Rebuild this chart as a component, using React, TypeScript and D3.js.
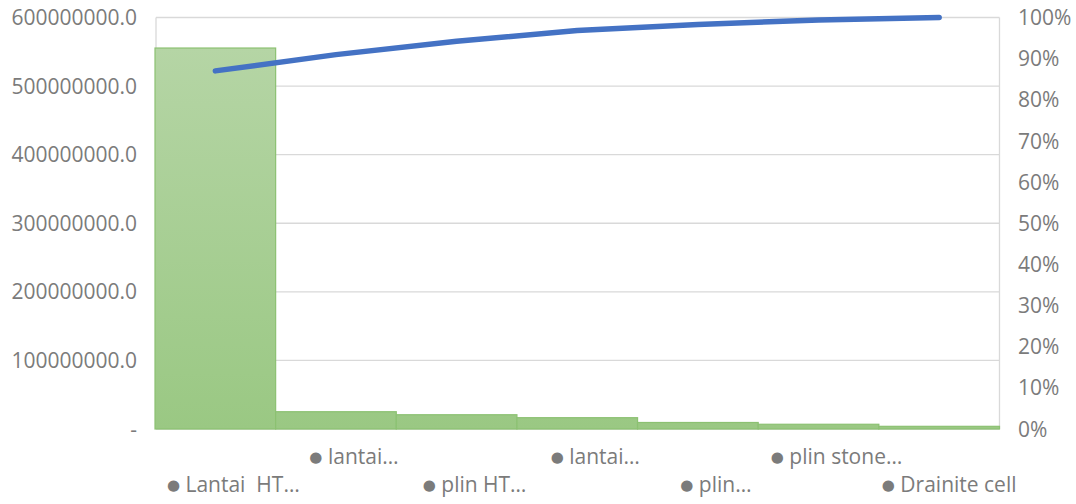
import React from "react";
import * as d3 from "d3";

const categories = [
  "Lantai  HT…",
  "lantai…",
  "plin HT…",
  "lantai…",
  "plin…",
  "plin stone…",
  "Drainite cell",
];
const values = [555500000, 25200000, 20800000, 16500000, 9500000, 6900000, 3900000];
const leftTicks = [0, 100000000, 200000000, 300000000, 400000000, 500000000, 600000000];
const rightTicks = [0, 0.1, 0.2, 0.3, 0.4, 0.5, 0.6, 0.7, 0.8, 0.9, 1];

const W = 1076;
const H = 504;
const plot = { left: 155, right: 999.5, top: 17.5, bottom: 429 };
const font = "'Open Sans', 'Liberation Sans', sans-serif";
const textColor = "#7b7b7b";

const App = () => {
  const x = d3.scaleBand<number>().domain(d3.range(categories.length)).range([plot.left, plot.right]).padding(0);
  const y = d3.scaleLinear().domain([0, 600000000]).range([plot.bottom, plot.top]);
  const yPct = d3.scaleLinear().domain([0, 1]).range([plot.bottom, plot.top]);

  const total = d3.sum(values);
  const cumulative = d3.cumsum(values).map((c) => c / total);

  const line = d3
    .line<number>()
    .x((_, i) => (x(i) as number) + x.bandwidth() / 2)
    .y((d) => yPct(d));

  return (
    <div style={{ position: "fixed", left: 0, top: 0 }}>
      <svg width={W} height={H} style={{ display: "block", background: "#fff" }}>
        <defs>
          <linearGradient id="barFill" gradientUnits="userSpaceOnUse" x1="0" x2="0" y1={y(values[0])} y2={y(0)}>
            <stop offset="0" stopColor="#b5d5a5" />
            <stop offset="1" stopColor="#9ac883" />
          </linearGradient>
        </defs>

        {/* gridlines */}
        {leftTicks.map((t) => (
          <line key={t} x1={plot.left + 1} x2={plot.right} y1={y(t)} y2={y(t)} stroke="#d9d9d9" strokeWidth={1.3} />
        ))}
        <line x1={plot.left + 1} x2={plot.left + 1} y1={plot.top} y2={plot.bottom} stroke="#d9d9d9" strokeWidth={1.3} />
        <line x1={plot.right} x2={plot.right} y1={plot.top} y2={plot.bottom} stroke="#d9d9d9" strokeWidth={1.3} />

        {/* bars */}
        {values.map((v, i) => (
          <rect
            key={i}
            x={x(i)}
            y={y(v)}
            width={x.bandwidth()}
            height={y(0) - y(v)}
            fill="url(#barFill)"
            stroke="#8cc172"
            strokeWidth={1.2}
          />
        ))}

        {/* cumulative line */}
        <path d={line(cumulative) || ""} fill="none" stroke="#4472c4" strokeWidth={5.5} strokeLinecap="round" strokeLinejoin="round" />

        {/* left axis */}
        {leftTicks.map((t) => (
          <text
            key={t}
            x={137}
            y={y(t)}
            dy="0.36em"
            textAnchor="end"
            fontFamily={font}
            fontSize={21}
            fill={textColor}
          >
            {t === 0 ? "-" : d3.format(".1f")(t)}
          </text>
        ))}

        {/* right axis */}
        {rightTicks.map((t) => (
          <text key={t} x={1018} y={yPct(t)} dy="0.36em" textAnchor="start" fontFamily={font} fontSize={21} fill={textColor}>
            {d3.format(".0%")(t)}
          </text>
        ))}

        {/* category labels, staggered */}
        {categories.map((c, i) => {
          const cx = (x(i) as number) + x.bandwidth() / 2 + (i === categories.length - 1 ? 10 : 18);
          const cy = i % 2 === 0 ? 491 : 463;
          return (
            <text
              key={i}
              x={cx}
              y={cy}
              dy="0.36em"
              textAnchor="middle"
              fontFamily={font}
              fontSize={21}
              fill={textColor}
              style={{ whiteSpace: "pre" }}
            >
              <tspan fontFamily="'DejaVu Sans', sans-serif" fontSize={15} dy="-0.1em">●</tspan>
              <tspan dy="0.1em">{" " + c}</tspan>
            </text>
          );
        })}
      </svg>
    </div>
  );
};

export default App;
